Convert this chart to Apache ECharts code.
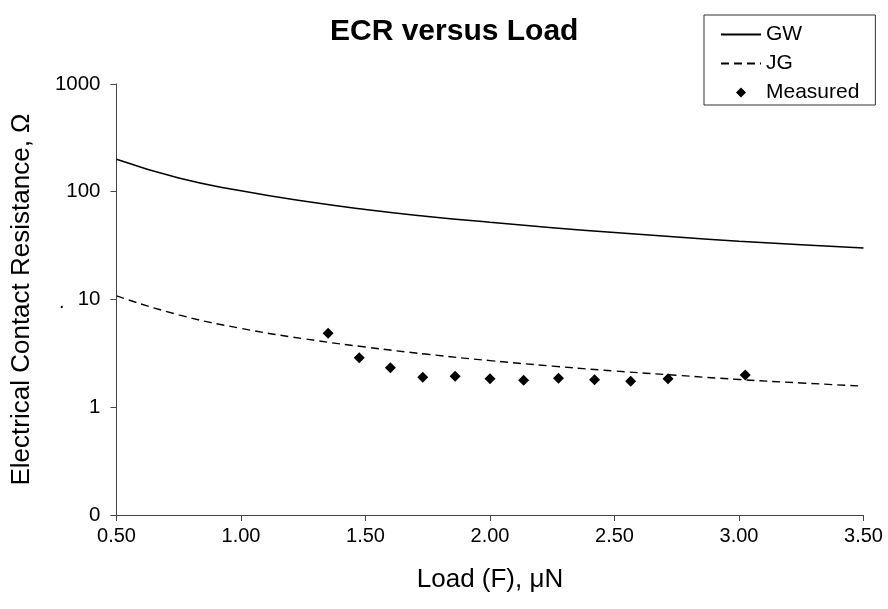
<!DOCTYPE html>
<html>
<head>
<meta charset="utf-8">
<script src="https://cdn.jsdelivr.net/npm/echarts@6/dist/echarts.min.js"></script>
<style>
  html, body { margin: 0; padding: 0; background: #ffffff; }
  #chart { width: 888px; height: 609px; }
</style>
</head>
<body>
<div id="chart"></div>
<script>
// Load values (µN) at which the model curves are tabulated
const modelLoad = [0.50, 0.75, 1.00, 1.25, 1.50, 1.75, 2.00, 2.25, 2.50, 2.75, 3.00, 3.25, 3.50];
// Greenwood-Williamson model resistance (Ω)
const gwResistance = [200, 134, 102, 82, 68.5, 59, 52, 46.4, 41.8, 38, 34.8, 32.2, 30];
// JG model resistance (Ω)
const jgResistance = [10.8, 7.2, 5.4, 4.33, 3.62, 3.1, 2.71, 2.41, 2.17, 1.98, 1.81, 1.68, 1.57];
// Measured contact resistance
const measuredLoad = [1.35, 1.475, 1.60, 1.73, 1.86, 2.00, 2.135, 2.275, 2.42, 2.565, 2.715, 3.025];
const measuredResistance = [4.86, 2.88, 2.33, 1.90, 1.94, 1.84, 1.78, 1.86, 1.80, 1.74, 1.84, 1.99];
// Labels shown on the logarithmic resistance axis (0.1 … 1000)
const yTickLabels = ['0', '1', '10', '100', '1000'];

const FONT = '"Liberation Sans", Arial, sans-serif';
const zip = (xs, ys) => xs.map((x, i) => [x, ys[i]]);

// Line entries in the legend show only the stroke; the marker entry is a small diamond
const hiddenMarker = { color: 'rgba(0,0,0,0)', borderWidth: 0 };
const diamondIcon = 'path://M0,-5L5,0L0,5L-5,0Z';

const chart = echarts.init(document.getElementById('chart'), null, { renderer: 'canvas' });

chart.setOption({
  backgroundColor: '#ffffff',
  animation: false,
  textStyle: { fontFamily: FONT, color: '#000' },
  title: {
    text: 'ECR versus Load',
    left: 325,
    top: 12,
    textStyle: { fontFamily: FONT, fontSize: 30, fontWeight: 'bold', color: '#000' }
  },
  legend: {
    orient: 'vertical',
    left: 704,
    top: 15,
    padding: [9, 16, 2, 16],
    itemWidth: 40,
    itemHeight: 10,
    itemGap: 8,
    symbolKeepAspect: true,
    borderColor: '#333',
    borderWidth: 1,
    borderRadius: 0,
    textStyle: { fontFamily: FONT, fontSize: 21, color: '#000', lineHeight: 21 },
    data: [
      { name: 'GW', itemStyle: hiddenMarker },
      { name: 'JG', itemStyle: hiddenMarker },
      { name: 'Measured', icon: diamondIcon }
    ]
  },
  graphic: [{
    type: 'text',
    left: 59,
    top: 292,
    style: { text: '.', font: '20px ' + FONT, fill: '#000' }
  }],
  grid: { left: 116.5, right: 24.5, top: 84, bottom: 94, containLabel: false },
  xAxis: {
    type: 'value',
    min: 0.5,
    max: 3.5,
    interval: 0.5,
    name: 'Load (F), μN',
    nameLocation: 'middle',
    nameGap: 52,
    nameTextStyle: { fontFamily: FONT, fontSize: 26, color: '#000' },
    axisLine: { show: true, onZero: false, lineStyle: { color: '#444', width: 1 } },
    axisTick: { show: true, inside: false, length: 6, lineStyle: { color: '#444' } },
    axisLabel: { fontFamily: FONT, fontSize: 20, color: '#000', margin: 11,
                 formatter: v => v.toFixed(2) },
    splitLine: { show: false }
  },
  yAxis: {
    type: 'log',
    logBase: 10,
    min: 0.1,
    max: 1000,
    name: 'Electrical Contact Resistance, Ω',
    nameLocation: 'middle',
    nameGap: 82,
    nameTextStyle: { fontFamily: FONT, fontSize: 26, color: '#000' },
    axisLine: { show: true, lineStyle: { color: '#444', width: 1 } },
    axisTick: { show: true, inside: false, length: 6, lineStyle: { color: '#444' } },
    axisLabel: { fontFamily: FONT, fontSize: 20.5, color: '#000', margin: 16,
                 formatter: v => yTickLabels[Math.round(Math.log10(v)) + 1] },
    splitLine: { show: false },
    minorTick: { show: false }
  },
  series: [
    {
      name: 'GW',
      type: 'line',
      data: zip(modelLoad, gwResistance),
      smooth: true,
      symbol: 'none',
      lineStyle: { color: '#000', width: 1.5, type: 'solid' },
      itemStyle: { color: '#000' }
    },
    {
      name: 'JG',
      type: 'line',
      data: zip(modelLoad, jgResistance),
      smooth: true,
      symbol: 'none',
      lineStyle: { color: '#000', width: 1.4, type: [8, 5] },
      itemStyle: { color: '#000' }
    },
    {
      name: 'Measured',
      type: 'scatter',
      data: zip(measuredLoad, measuredResistance),
      symbol: 'diamond',
      symbolSize: 11,
      symbolKeepAspect: true,
      itemStyle: { color: '#000', opacity: 1 }
    }
  ]
});
</script>
</body>
</html>
